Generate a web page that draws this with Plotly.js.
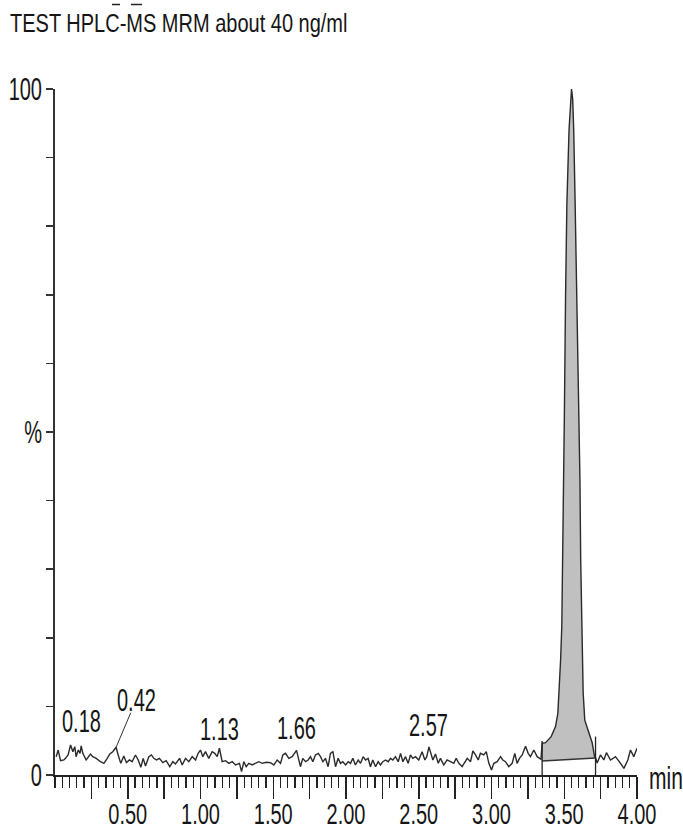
<!DOCTYPE html>
<html>
<head>
<meta charset="utf-8">
<script src="https://cdn.plot.ly/plotly-3.0.1.min.js"></script>
<style>
  html, body { margin: 0; padding: 0; background: #fff; }
  #chart { width: 683px; height: 831px; }
</style>
</head>
<body>
<div id="chart"></div>
<script>
// Retention time (min) and relative intensity (%) of the MRM trace
const times = [
  0.008, 0.022, 0.038, 0.061, 0.072, 0.090, 0.107, 0.123, 0.136, 0.145,
  0.160, 0.172, 0.180, 0.191, 0.214, 0.244, 0.260, 0.283, 0.313, 0.336,
  0.359, 0.377, 0.397, 0.420, 0.434, 0.452, 0.473, 0.491, 0.512, 0.530,
  0.553, 0.572, 0.590, 0.606, 0.622, 0.645, 0.663, 0.679, 0.698, 0.718,
  0.741, 0.764, 0.789, 0.810, 0.828, 0.856,
  0.874, 0.897, 0.920, 0.943, 0.966, 0.984, 1.000, 1.016, 1.034, 1.057,
  1.080, 1.098, 1.115, 1.130, 1.149, 1.172, 1.195, 1.218, 1.241, 1.268,
  1.282, 1.298, 1.314, 1.332, 1.355, 1.378, 1.401, 1.424, 1.451, 1.481,
  1.504, 1.527, 1.550, 1.566, 1.584, 1.607, 1.630, 1.660,
  1.687, 1.703, 1.722, 1.740, 1.756, 1.772, 1.790, 1.809, 1.825, 1.841,
  1.859, 1.877, 1.893, 1.910, 1.928, 1.946, 1.962, 1.978, 1.997, 2.015,
  2.031, 2.047, 2.065, 2.084, 2.100, 2.118, 2.134, 2.152, 2.168, 2.184,
  2.203, 2.221, 2.237, 2.253, 2.271, 2.290, 2.306, 2.322, 2.340, 2.359,
  2.375, 2.391, 2.409, 2.427, 2.443, 2.459, 2.478,
  2.500, 2.523, 2.542, 2.555, 2.570, 2.597, 2.615, 2.634, 2.649, 2.672,
  2.695, 2.718, 2.741, 2.757, 2.776, 2.798, 2.817, 2.833, 2.856, 2.872,
  2.890, 2.909, 2.924, 2.947, 2.964, 2.982, 3.000, 3.016, 3.039, 3.062,
  3.078, 3.096, 3.119, 3.142, 3.160, 3.176, 3.192, 3.211, 3.234, 3.252,
  3.268, 3.291, 3.314, 3.330, 3.340,
  3.348, 3.371, 3.410, 3.440, 3.456, 3.464, 3.475, 3.483, 3.490, 3.494,
  3.501, 3.509, 3.518, 3.533, 3.542, 3.550, 3.558, 3.565, 3.575, 3.587,
  3.598, 3.608, 3.613, 3.623, 3.630, 3.641, 3.669, 3.692, 3.708, 3.715,
  3.726, 3.749, 3.772, 3.790, 3.818, 3.852, 3.887, 3.910, 3.937, 3.955,
  3.978, 4.000
];
const intensity = [
  2.67, 3.64, 2.09, 2.19, 2.43, 2.92, 4.37, 3.40, 4.13, 2.67,
  3.64, 3.16, 4.23, 3.16, 2.19, 3.06, 2.67, 2.43, 1.94, 1.70,
  2.43, 3.06, 3.40, 4.05, 2.92, 1.70, 2.77, 1.80, 2.19, 1.94,
  2.92, 2.19, 1.12, 2.43, 1.31, 2.67, 2.92, 2.43, 2.19, 2.43,
  1.80, 2.09, 1.21, 1.94, 1.60, 2.43,
  1.46, 2.43, 1.94, 2.67, 2.19, 3.16, 3.64, 2.67, 3.40, 2.43,
  3.40, 3.16, 2.67, 3.90, 1.94, 2.09, 1.70, 1.94, 1.46, 1.70,
  0.49, 1.94, 1.21, 1.70, 1.46, 1.70, 1.94, 1.70, 1.85, 1.80,
  1.46, 2.19, 1.70, 2.92, 3.16, 2.43, 2.67, 3.60,
  1.21, 2.43, 1.94, 2.19, 2.67, 1.94, 2.92, 3.16, 2.67, 1.94,
  2.43, 1.21, 3.16, 3.40, 1.21, 2.43, 1.70, 1.94, 1.46, 1.94,
  1.70, 2.43, 1.46, 2.19, 1.70, 2.67, 2.19, 2.43, 1.21, 2.19,
  1.21, 1.94, 1.46, 1.94, 2.19, 1.94, 2.43, 2.19, 2.67, 1.94,
  3.16, 1.94, 2.67, 1.70, 2.92, 2.43, 2.67,
  2.19, 3.40, 2.19, 2.67, 4.10, 2.19, 3.06, 1.70, 2.43, 1.46,
  2.19, 1.94, 1.70, 2.43, 1.70, 1.21, 1.94, 2.43, 1.94, 3.50,
  2.92, 2.19, 3.16, 2.92, 3.40, 1.70, 0.73, 1.70, 1.94, 2.67,
  2.19, 1.94, 1.21, 1.70, 3.16, 1.70, 2.43, 2.92, 4.20, 3.16,
  2.67, 3.64, 2.67, 2.43, 2.30,
  4.60, 4.71, 5.59, 7.05, 9.00, 12.0, 16.8, 21.6, 31.4, 43.0,
  52.8, 69.8, 83.2, 94.1, 98.5, 100.0, 98.5, 94.1, 83.2, 69.8,
  52.8, 43.0, 31.4, 21.6, 12.0, 8.00, 6.10, 4.70, 2.70, 2.55,
  1.75, 2.92, 2.19, 3.26, 2.19, 2.67, 1.70, 0.97, 2.19, 3.65,
  2.67, 3.89
];

// Integrated peak: start/end times, baseline levels and drop-line tops (%)
const integrationTimes = [3.348, 3.715];
const baselineLevels = [2.04, 2.48];
const dropTops = [4.96, 5.60];

// Peak annotations (retention times)
const peakLabels = ['0.18', '0.42', '1.13', '1.66', '2.57'];
const peakTimes = [0.18, 0.42, 1.13, 1.66, 2.57];
const mainPeakTime = 3.55;
const mainPeakLabel = '3.55';
const mainPeakArea = '280';

// Axis ticks
const xTickVals = [0.25, 0.5, 0.75, 1.0, 1.25, 1.5, 1.75, 2.0, 2.25, 2.5, 2.75, 3.0, 3.25, 3.5, 3.75, 4.0];
const xTickText = ['', '0.50', '', '1.00', '', '1.50', '', '2.00', '', '2.50', '', '3.00', '', '3.50', '', '4.00'];
const yTickVals = [0, 10, 20, 30, 40, 50, 60, 70, 80, 90, 100];
const yTickText = ['0', '', '', '', '', '%', '', '', '', '', '100'];

const titleText = 'TEST HPLC-MS MRM about 40 ng/ml';

const FONT = 'Liberation Sans, Arial, Helvetica, sans-serif';
const INK = '#151515';

// Shaded area between the trace and the integration baseline
const fillX = [], fillY = [];
for (let i = 0; i < times.length; i++) {
  if (times[i] >= integrationTimes[0] && times[i] <= integrationTimes[1]) {
    fillX.push(times[i]);
    fillY.push(intensity[i]);
  }
}
fillX.push(integrationTimes[1], integrationTimes[0]);
fillY.push(baselineLevels[1], baselineLevels[0]);

const data = [
  {
    x: fillX, y: fillY, type: 'scatter', mode: 'lines',
    fill: 'toself', fillcolor: '#c0c0c0',
    line: { width: 0 }, hoverinfo: 'skip', showlegend: false
  },
  {
    x: integrationTimes, y: baselineLevels, type: 'scatter', mode: 'lines',
    line: { color: '#333', width: 1.6 }, hoverinfo: 'skip', showlegend: false
  },
  {
    x: times, y: intensity, type: 'scatter', mode: 'lines',
    line: { color: '#2a2a2a', width: 1.4 }, cliponaxis: false,
    hoverinfo: 'skip', showlegend: false
  }
];

// Integration drop lines
const shapes = integrationTimes.map((t, i) => ({
  type: 'line', xref: 'x', yref: 'y',
  x0: t, x1: t, y0: 0, y1: dropTops[i],
  line: { color: '#222', width: 1.3 }
}));
// Small bars above the title text
shapes.push(
  { type: 'line', xref: 'paper', yref: 'paper', x0: (112 - 55) / 582, x1: (120 - 55) / 582,
    y0: (775 - 4.5) / 686, y1: (775 - 4.5) / 686, line: { color: '#222', width: 1.5 } },
  { type: 'line', xref: 'paper', yref: 'paper', x0: (131 - 55) / 582, x1: (142 - 55) / 582,
    y0: (775 - 4.5) / 686, y1: (775 - 4.5) / 686, line: { color: '#222', width: 1.5 } }
);

// Label heights above the baseline (%)
const labelLevels = [7.9, 10.9, 6.7, 6.85, 7.3];
const annotations = [];
// index 0: title
annotations.push({
  text: titleText, xref: 'paper', yref: 'paper',
  x: (8 - 55) / 582, y: (775 - 22.5) / 686, xanchor: 'left', yanchor: 'middle',
  showarrow: false, font: { family: FONT, size: 20, color: INK }
});
// index 1: axis unit
annotations.push({
  text: 'min', xref: 'paper', yref: 'paper',
  x: (666 - 55) / 582, y: (775 - 778) / 686, xanchor: 'center', yanchor: 'middle',
  showarrow: false, font: { family: FONT, size: 21, color: INK }
});
// main peak time and area
annotations.push({
  text: mainPeakLabel, xref: 'x', yref: 'y', x: mainPeakTime, y: 109.2,
  xanchor: 'center', yanchor: 'middle', showarrow: false,
  font: { family: FONT, size: 20, color: INK }
});
annotations.push({
  text: mainPeakArea, xref: 'x', yref: 'y', x: mainPeakTime, y: 103.1,
  xanchor: 'center', yanchor: 'middle', showarrow: false,
  font: { family: FONT, size: 20, color: INK }
});
// minor peaks
peakLabels.forEach((lab, i) => {
  const a = {
    text: lab, xref: 'x', yref: 'y', x: peakTimes[i], y: labelLevels[i],
    xanchor: 'center', yanchor: 'middle', showarrow: false,
    font: { family: FONT, size: 20, color: INK }
  };
  if (lab === '0.42') {
    const k = times.indexOf(peakTimes[i]);
    Object.assign(a, {
      x: peakTimes[i], y: intensity[k], showarrow: true,
      axref: 'x', ayref: 'y', ax: 0.557, ay: labelLevels[i],
      arrowhead: 0, arrowwidth: 1, arrowcolor: '#333', standoff: 0
    });
  }
  annotations.push(a);
});

const layout = {
  width: 683, height: 831,
  margin: { l: 55, r: 46, t: 89, b: 56, pad: 0 },
  paper_bgcolor: '#fff', plot_bgcolor: '#fff',
  showlegend: false,
  font: { family: FONT, size: 20, color: INK },
  xaxis: {
    range: [0, 4.0], fixedrange: true,
    showgrid: false, zeroline: false,
    showline: true, linecolor: '#222', linewidth: 2,
    tickmode: 'array', tickvals: xTickVals, ticktext: xTickText,
    ticks: 'outside', ticklen: 22, tickwidth: 1.5, tickcolor: '#222',
    tickfont: { family: FONT, size: 20, color: INK },
    minor: { tickmode: 'linear', tick0: 0, dtick: 0.05, ticks: 'outside',
             ticklen: 11, tickwidth: 1.3, tickcolor: '#222', showgrid: false }
  },
  yaxis: {
    range: [0, 100], fixedrange: true,
    showgrid: false, zeroline: false,
    showline: true, linecolor: '#333', linewidth: 2,
    tickmode: 'array', tickvals: yTickVals, ticktext: yTickText,
    ticks: 'outside', ticklen: 7, tickwidth: 1.5, tickcolor: '#333',
    tickfont: { family: FONT, size: 20, color: INK }
  },
  shapes: shapes,
  annotations: annotations
};

// The lettering is tall and narrow: stretch each text vertically about its centre
function stretchY(el, sy, dy) {
  const bb = el.getBBox();
  const cx = bb.x + bb.width / 2, cy = bb.y + bb.height / 2;
  const prev = el.getAttribute('transform') || '';
  el.setAttribute('transform',
    prev + ' translate(0,' + (dy || 0) + ') translate(' + cx + ',' + cy + ') scale(1,' + sy + ') translate(' + (-cx) + ',' + (-cy) + ')');
}

const gd = document.getElementById('chart');
Plotly.newPlot(gd, data, layout, { staticPlot: true, displayModeBar: false }).then(() => {
  gd.querySelectorAll('.xtick text').forEach(el => stretchY(el, 1.5, -2));
  gd.querySelectorAll('.ytick text').forEach(el => stretchY(el, 1.6, 0));
  gd.querySelectorAll('.annotation').forEach(g => {
    const idx = +g.getAttribute('data-index');
    const t = g.querySelector('text.annotation-text');
    if (!t) return;
    stretchY(t, idx === 0 ? 1.3 : (idx === 1 ? 1.45 : 1.6), 0);
  });
});
</script>
</body>
</html>
